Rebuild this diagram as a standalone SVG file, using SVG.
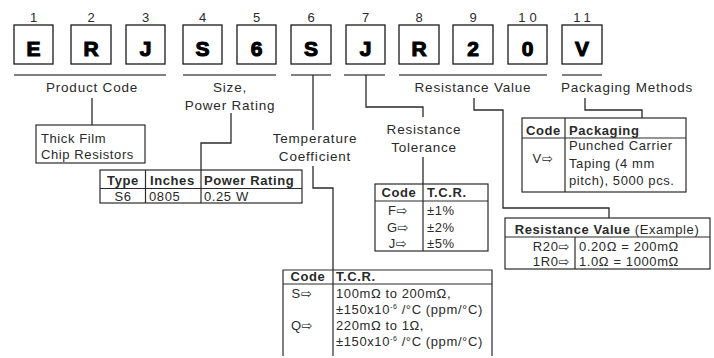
<svg xmlns="http://www.w3.org/2000/svg" width="714" height="358" viewBox="0 0 714 358">
<style>
text{font-family:"Liberation Sans","DejaVu Sans",Arial,sans-serif;fill:#2a2a2a}
.num{font-size:13px;text-anchor:middle}
.big{font-size:21px;font-weight:bold;text-anchor:middle;fill:#000;stroke:#000;stroke-width:1.1px}
.lbl{font-size:13.5px;letter-spacing:0.8px;text-anchor:middle}
.t{font-size:13px;letter-spacing:0.6px}
.b{font-weight:bold}
.m{text-anchor:middle}
.e{text-anchor:end}
.box{fill:#fff;stroke:#1a1a1a;stroke-width:1.3}
.tb{fill:none;stroke:#2a2a2a;stroke-width:1.2}
.ul{stroke:#555;stroke-width:1.6;fill:none}
.cn{stroke:#2a2a2a;stroke-width:1.3;fill:none}
</style>
<rect width="714" height="358" fill="#fff"/>
<g id="code-boxes">
<text class="num" x="33.5" y="22">1</text>
<text class="num" x="91" y="22">2</text>
<text class="num" x="145.5" y="22">3</text>
<text class="num" x="202.5" y="22">4</text>
<text class="num" x="256.5" y="22">5</text>
<text class="num" x="311" y="22">6</text>
<text class="num" x="365.5" y="22">7</text>
<text class="num" x="419" y="22">8</text>
<text class="num" x="473" y="22">9</text>
<text class="num" x="529.5" y="22" letter-spacing="4px">10</text>
<text class="num" x="584" y="22" letter-spacing="4px">11</text>
<rect class="box" x="14" y="25" width="39" height="39"/>
<rect class="box" x="71" y="25" width="40" height="39"/>
<rect class="box" x="126" y="25" width="39" height="39"/>
<rect class="box" x="183" y="25" width="39" height="39"/>
<rect class="box" x="237" y="25" width="39" height="39"/>
<rect class="box" x="291" y="25" width="40" height="39"/>
<rect class="box" x="346" y="25" width="39" height="39"/>
<rect class="box" x="399" y="25" width="40" height="39"/>
<rect class="box" x="453" y="25" width="40" height="39"/>
<rect class="box" x="508" y="25" width="39" height="39"/>
<rect class="box" x="562" y="25" width="40" height="39"/>
<text class="big" x="33.5" y="55.5">E</text>
<text class="big" x="91" y="55.5">R</text>
<text class="big" x="145.5" y="55.5">J</text>
<text class="big" x="202.5" y="55.5">S</text>
<text class="big" x="256.5" y="55.5">6</text>
<text class="big" x="311" y="55.5">S</text>
<text class="big" x="365.5" y="55.5">J</text>
<text class="big" x="419" y="55.5">R</text>
<text class="big" x="473" y="55.5">2</text>
<text class="big" x="527.5" y="55.5">0</text>
<text class="big" x="582" y="55.5">V</text>
</g>
<g id="connectors">
<line class="ul" x1="14" y1="75" x2="166" y2="75"/>
<line class="ul" x1="183" y1="75" x2="276" y2="75"/>
<line class="ul" x1="291" y1="75" x2="331" y2="75"/>
<line class="ul" x1="344" y1="75" x2="385" y2="75"/>
<line class="ul" x1="399" y1="75" x2="547" y2="75"/>
<line class="ul" x1="562" y1="75" x2="602" y2="75"/>
<line class="cn" x1="92" y1="98" x2="92" y2="125"/>
<path class="cn" d="M231,113 V143 H201 V170"/>
<line class="cn" x1="313" y1="75" x2="313" y2="130"/>
<path class="cn" d="M313,166 V188 H333 V270"/>
<path class="cn" d="M366,75 V107 H423 V117"/>
<line class="cn" x1="423" y1="157" x2="423" y2="184"/>
<path class="cn" d="M474,98 V110 H503 V208 H609 V218"/>
<path class="cn" d="M585,98 V110 H642 V118"/>
</g>
<g id="labels">
<text class="lbl" x="92" y="92">Product Code</text>
<text class="lbl" x="230" y="92">Size,</text>
<text class="lbl" x="230" y="110">Power Rating</text>
<text class="lbl" x="315" y="143">Temperature</text>
<text class="lbl" x="315" y="161">Coefficient</text>
<text class="lbl" x="424" y="134">Resistance</text>
<text class="lbl" x="424" y="152">Tolerance</text>
<text class="lbl" x="473" y="92">Resistance Value</text>
<text class="lbl" x="627" y="92">Packaging Methods</text>
</g>
<g id="product-box">
<rect class="tb" x="36" y="125" width="109" height="38"/>
<text class="t" x="41" y="143">Thick Film</text>
<text class="t" x="41" y="159">Chip Resistors</text>
</g>
<g id="size-table">
<rect class="tb" x="100" y="170" width="202" height="33"/>
<line class="tb" x1="100" y1="188.5" x2="302" y2="188.5"/>
<line class="tb" x1="145.5" y1="170" x2="145.5" y2="203"/>
<line class="tb" x1="201" y1="170" x2="201" y2="203"/>
<text class="t b m" x="123" y="185">Type</text>
<text class="t b" x="150" y="185">Inches</text>
<text class="t b" x="204" y="185">Power Rating</text>
<text class="t m" x="123" y="201">S6</text>
<text class="t" x="149" y="201">0805</text>
<text class="t" x="204" y="201">0.25 W</text>
</g>
<g id="tolerance-table">
<rect class="tb" x="375" y="184" width="113" height="67"/>
<line class="tb" x1="375" y1="201" x2="488" y2="201"/>
<line class="tb" x1="423" y1="184" x2="423" y2="251"/>
<text class="t b m" x="399" y="197">Code</text>
<text class="t b" x="427" y="197">T.C.R.</text>
<text class="t m" x="398" y="215">F⇨</text>
<text class="t m" x="398" y="232">G⇨</text>
<text class="t m" x="398" y="248">J⇨</text>
<text class="t" x="427" y="215">±1%</text>
<text class="t" x="427" y="232">±2%</text>
<text class="t" x="427" y="248">±5%</text>
</g>
<g id="packaging-table">
<rect class="tb" x="522" y="118" width="164" height="74"/>
<line class="tb" x1="522" y1="138" x2="686" y2="138"/>
<line class="tb" x1="565" y1="118" x2="565" y2="192"/>
<text class="t b m" x="543.5" y="135">Code</text>
<text class="t b" x="569" y="135">Packaging</text>
<text class="t m" x="543" y="163">V⇨</text>
<text class="t" x="569" y="150">Punched Carrier</text>
<text class="t" x="569" y="168">Taping (4 mm</text>
<text class="t" x="569" y="185">pitch), 5000 pcs.</text>
</g>
<g id="resistance-table">
<rect class="tb" x="505" y="218" width="205" height="51"/>
<line class="tb" x1="505" y1="237" x2="710" y2="237"/>
<line class="tb" x1="575" y1="237" x2="575" y2="269"/>
<text class="t m" x="607" y="234" letter-spacing="0.3px"><tspan class="b">Resistance Value</tspan> (Example)</text>
<text class="t e" x="570" y="251" font-size="12.5">R20⇨</text>
<text class="t e" x="570" y="265.5" font-size="12.5">1R0⇨</text>
<text class="t" x="579" y="251" font-size="12.5" letter-spacing="1px">0.20Ω = 200mΩ</text>
<text class="t" x="579" y="265.5" font-size="12.5" letter-spacing="1px">1.0Ω = 1000mΩ</text>
</g>
<g id="tcr-table">
<path class="tb" d="M283,356 V270 H492 V356"/>
<line class="tb" x1="283" y1="284" x2="492" y2="284"/>
<line class="tb" x1="333" y1="270" x2="333" y2="356"/>
<text class="t b m" x="308" y="281">Code</text>
<text class="t b" x="336" y="281">T.C.R.</text>
<text class="t m" x="302" y="298">S⇨</text>
<text class="t m" x="302" y="330">Q⇨</text>
<text class="t" x="336" y="298" letter-spacing="1.1px">100mΩ to 200mΩ,</text>
<text class="t" x="336" y="314" letter-spacing="0.3px">±150x10<tspan font-size="7" dy="-5">-6</tspan><tspan dy="5"> /°C (ppm/°C)</tspan></text>
<text class="t" x="336" y="330" letter-spacing="1.1px">220mΩ to 1Ω,</text>
<text class="t" x="336" y="346" letter-spacing="0.3px">±150x10<tspan font-size="7" dy="-5">-6</tspan><tspan dy="5"> /°C (ppm/°C)</tspan></text>
</g>
</svg>
